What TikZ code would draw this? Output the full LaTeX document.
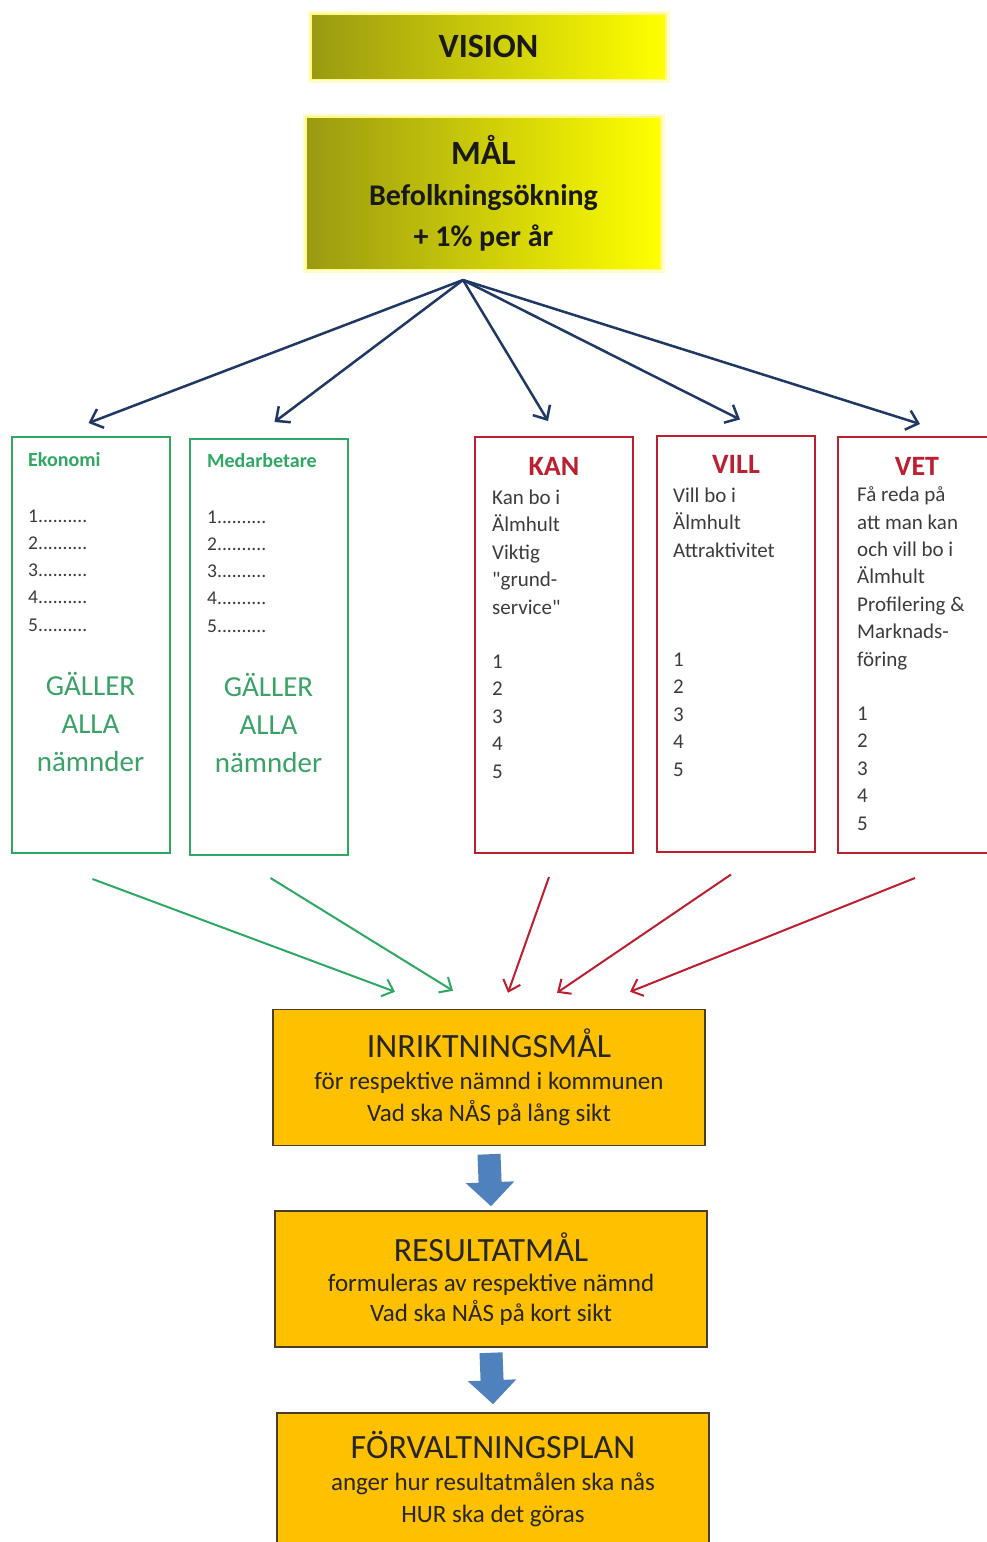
\documentclass[tikz,border=0pt]{standalone}
\usepackage{fontspec}
\setmainfont{Carlito}
\usetikzlibrary{positioning,arrows.meta}

\definecolor{navy}{HTML}{1F3864}
\definecolor{goalgreen}{HTML}{2EA862}
\definecolor{goalred}{HTML}{BC1F30}
\definecolor{olivedark}{HTML}{9A9A12}
\definecolor{planorange}{HTML}{FFC000}
\definecolor{planborder}{HTML}{4A3D28}
\definecolor{planblue}{HTML}{4F81BD}
\definecolor{textgray}{HTML}{3C3C3C}

\tikzset{
  yellowbox/.style={minimum width=353pt, inner sep=0pt, left color=olivedark, right color=yellow,
    preaction={draw=yellow!45, line width=9pt, opacity=0.45},
    preaction={draw=yellow!60, line width=4pt, opacity=0.7}, align=center, text=black!90},
  greenbox/.style={draw=goalgreen, line width=2pt, minimum width=158pt, minimum height=416pt, inner sep=0pt},
  redbox/.style={draw=goalred, line width=2pt, minimum width=158pt, minimum height=416pt, inner sep=0pt},
  greentitle/.style={anchor=base west, inner sep=0pt, text=goalgreen, font=\bfseries\fontsize{20}{24}\selectfont},
  redtitle/.style={anchor=base, inner sep=0pt, text=goalred, font=\bfseries\fontsize{28}{32}\selectfont},
  % multi-line texts are placed at the baseline of their last line
  boxtext/.style={anchor=base west, align=left, inner sep=0pt, text=textgray, font=\fontsize{21}{27.4}\selectfont},
  listtext/.style={anchor=base west, align=left, inner sep=0pt, text=textgray, font=\fontsize{19.5}{27.2}\selectfont},
  allatext/.style={anchor=base, align=center, inner sep=0pt, text=goalgreen!85!gray, font=\fontsize{29}{38}\selectfont},
  orangebox/.style={fill=planorange, draw=planborder, line width=1.5pt, minimum width=432pt, minimum height=136pt,
    inner sep=0pt, align=center, text=black!85, font=\fontsize{25}{32}\selectfont},
  toparrow/.style={draw=navy, line width=2.5pt, -{Straight Barb[length=11pt,width=20pt]}},
  greenarrow/.style={draw=goalgreen, line width=2pt, -{Straight Barb[length=10pt,width=18pt]}},
  redarrow/.style={draw=goalred, line width=2pt, -{Straight Barb[length=10pt,width=18pt]}},
  blockarrow/.style={draw=planblue, line width=23pt, -{Triangle[length=24pt,width=47pt]}}
}

\begin{document}
\begin{tikzpicture}[x=1pt,y=-1pt]
  \path[fill=white,use as bounding box] (0,0) rectangle (987,1542);
  \clip (0,0) rectangle (987,1542);

  % top goals
  \node[yellowbox, minimum height=63pt, font=\bfseries\fontsize{34}{40}\selectfont] (vision) at (488.5,46.5) {VISION};
  \node[yellowbox, minimum height=150pt, font=\bfseries\fontsize{30}{41}\selectfont] (mal) at (483.5,193)
    {{\fontsize{34}{40}\selectfont MÅL}\\Befolkningsökning\\+ 1\% per år};
  \coordinate (hub) at (463,280);

  % the five areas
  \node[greenbox] (eko) at (90.5,645) {};
  \node[greenbox] (med) at (268.5,647) {};
  \node[redbox] (kan) at (554,645) {};
  \node[redbox] (vill) at (736,643.5) {};
  \node[redbox] (vet) at (917,645) {};

  \node[greentitle] (eko-title) at (28,466) {Ekonomi};
  \node[listtext] (eko-list) at (28,631) {1..........\\2..........\\3..........\\4..........\\5..........};
  \node[allatext] (eko-alla) at (90.5,771) {GÄLLER\\ALLA\\nämnder};
  \node[greentitle] (med-title) at (207,467) {Medarbetare};
  \node[listtext] (med-list) at (207,632) {1..........\\2..........\\3..........\\4..........\\5..........};
  \node[allatext] (med-alla) at (268.5,772) {GÄLLER\\ALLA\\nämnder};

  \node[redtitle] (kan-title) at (554,475) {KAN};
  \node[boxtext] (kan-text) at (492,778)
    {Kan bo i\\Älmhult\\Viktig\\\textquotedbl grund-\\service\textquotedbl\\[27pt]1\\2\\3\\4\\5};
  \node[redtitle] (vill-title) at (736,473) {VILL};
  \node[boxtext] (vill-text) at (673,776)
    {Vill bo i\\Älmhult\\Attraktivitet\\[82pt]1\\2\\3\\4\\5};
  \node[redtitle] (vet-title) at (917,475) {VET};
  \node[boxtext] (vet-text) at (857,830)
    {Få reda på\\att man kan\\och vill bo i\\Älmhult\\Profilering \&\\Marknads-\\föring\\[27pt]1\\2\\3\\4\\5};

  % plans
  \node[orangebox] (inr) at (489,1077.5)
    {{\fontsize{34}{38}\selectfont INRIKTNINGSMÅL}\\för respektive  nämnd i kommunen\\Vad ska NÅS på lång sikt};
  \node[orangebox, font=\fontsize{25}{30}\selectfont] (res) at (491,1279)
    {{\fontsize{34}{38}\selectfont RESULTATMÅL}\\formuleras av  respektive  nämnd\\Vad ska NÅS på kort sikt};
  \node[orangebox, minimum height=132pt] (forv) at (493,1479)
    {{\fontsize{34}{38}\selectfont FÖRVALTNINGSPLAN}\\anger hur resultatmålen ska nås\\HUR ska det göras};

  % connectors
  \draw[toparrow] (hub) -- ([xshift=-2pt,yshift=13pt]eko.north);
  \draw[toparrow] (hub) -- ([xshift=6pt,yshift=16pt]med.north);
  \draw[toparrow] (hub) -- ([xshift=-6pt,yshift=15pt]kan.north);
  \draw[toparrow] (hub) -- ([xshift=4pt,yshift=15pt]vill.north);
  \draw[toparrow] (hub) -- ([xshift=3pt,yshift=12pt]vet.north);

  \draw[greenarrow] ([xshift=2pt,yshift=-25pt]eko.south) -- ([xshift=-94pt,yshift=17pt]inr.north);
  \draw[greenarrow] ([xshift=2pt,yshift=-22pt]med.south) -- ([xshift=-36pt,yshift=18pt]inr.north);
  \draw[redarrow] ([xshift=-5pt,yshift=-23pt]kan.south) -- ([xshift=19pt,yshift=16pt]inr.north);
  \draw[redarrow] ([xshift=-5pt,yshift=-22pt]vill.south) -- ([xshift=68pt,yshift=16pt]inr.north);
  \draw[redarrow] ([xshift=-2pt,yshift=-24pt]vet.south) -- ([xshift=141pt,yshift=17pt]inr.north);

  \draw[blockarrow] ([yshift=-8pt]inr.south) -- ([yshift=4pt]res.north);
  \draw[blockarrow] ([yshift=-5pt]res.south) -- ([yshift=8pt]forv.north);
\end{tikzpicture}
\end{document}
